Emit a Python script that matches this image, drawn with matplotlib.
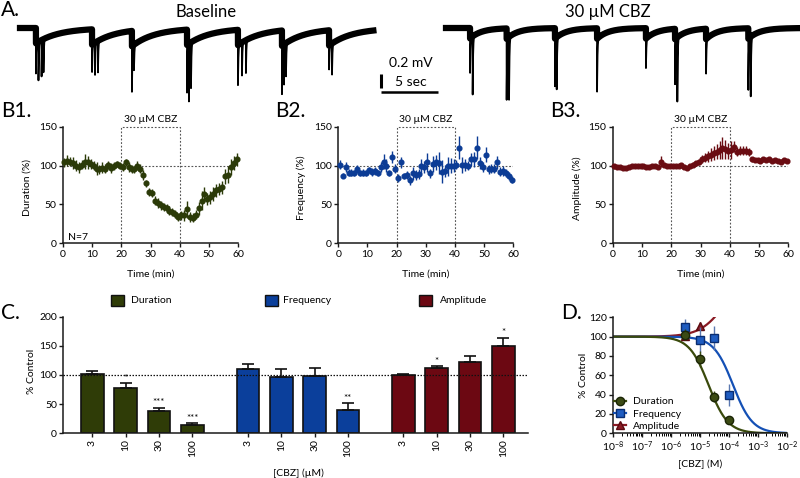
import numpy as np
import matplotlib
matplotlib.use("Agg")
import matplotlib.pyplot as plt
from matplotlib.patches import Rectangle
from matplotlib.lines import Line2D
from matplotlib.ticker import LogLocator, NullFormatter, FixedLocator

plt.rcParams['font.family'] = ['Lato', 'DejaVu Sans']
plt.rcParams['mathtext.fontset'] = 'custom'
plt.rcParams['mathtext.rm'] = 'Lato'
plt.rcParams['mathtext.it'] = 'Lato:italic'
plt.rcParams['mathtext.bf'] = 'Lato:bold'

# ------------------------------------------------------------------ data
# Panel A: field potential traces (event times in s, spike depths in mV)
base_spike_t = [1.40, 1.62, 1.89, 2.06, 6.32, 6.58, 6.84, 9.82, 10.00,
                14.65, 14.82, 15.00, 19.12, 19.47, 19.82, 22.98, 23.16, 23.33,
                27.11, 27.37]
base_spike_mv = [0.43, 0.55, 0.55, 0.47, 0.39, 0.46, 0.45, 0.65, 0.36,
                 0.72, 0.82, 0.65, 0.57, 0.50, 0.47, 0.69, 0.57, 0.50,
                 0.36, 0.47]
base_event_t = [1.40, 6.32, 9.82, 14.65, 19.12, 22.98, 27.11]
base_ahp_mv = 0.22
base_ahp_tau_s = 2.0
base_len_s = 31.0

cbz_spike_t = [2.11, 2.34, 5.32, 5.53, 9.56, 9.71, 13.25, 17.54, 20.09,
               20.29, 22.81, 26.52, 26.73]
cbz_spike_mv = [0.52, 0.83, 0.87, 0.95, 0.68, 0.78, 0.80, 0.42, 0.68,
                0.97, 0.52, 0.73, 0.90]
cbz_event_t = [2.11, 5.32, 9.56, 13.25, 17.54, 20.09, 22.81, 26.52]
cbz_ahp_mv = 0.15
cbz_ahp_tau_s = 1.0
cbz_len_s = 30.9

# Panels B1-B3: time course (one point per minute)
time_min = np.arange(60) + 0.5
duration_pct = [104, 106, 105, 103, 100, 98, 101, 105, 104, 102,
                100, 96, 95, 97, 96, 101, 97, 99, 102, 100,
                98, 104, 98, 96, 95, 100, 96, 88, 77, 66,
                65, 55, 52, 49, 47, 45, 42, 40, 38, 34,
                36, 36, 44, 34, 33, 37, 45, 55, 63, 57,
                59, 63, 68, 70, 72, 86, 88, 98, 103, 108]
duration_sem = [6, 7, 6, 8, 7, 7, 6, 10, 8, 7, 6, 8, 6, 7, 6, 5, 6, 5, 4, 4,
                5, 5, 6, 5, 5, 6, 6, 6, 5, 5, 5, 6, 6, 6, 5, 5, 6, 5, 5, 5,
                6, 7, 11, 6, 6, 6, 8, 12, 10, 8, 8, 9, 8, 8, 8, 10, 11, 10, 9, 8]
frequency_pct = [101, 87, 98, 91, 91, 90, 96, 90, 91, 90,
                 94, 92, 93, 90, 98, 105, 100, 90, 111, 96,
                 84, 104, 87, 88, 81, 90, 88, 89, 99, 98,
                 104, 90, 102, 104, 103, 92, 93, 99, 100, 100,
                 101, 123, 101, 101, 100, 108, 108, 123, 103, 98,
                 114, 95, 96, 96, 104, 92, 93, 90, 87, 82]
frequency_sem = [6, 3, 6, 4, 4, 4, 5, 4, 4, 4,
                 4, 5, 5, 4, 6, 10, 8, 4, 8, 6,
                 5, 7, 4, 5, 6, 8, 6, 6, 10, 8,
                 12, 6, 10, 10, 14, 15, 8, 12, 10, 8,
                 6, 15, 10, 8, 6, 8, 10, 15, 8, 6,
                 10, 6, 6, 6, 8, 6, 6, 5, 5, 4]
amplitude_pct = [99, 98, 98, 97, 97, 98, 99, 99, 99, 100,
                 99, 98, 98, 99, 100, 98, 105, 101, 100, 100,
                 99, 99, 100, 101, 98, 97, 99, 101, 103, 105,
                 108, 110, 112, 114, 116, 118, 120, 123, 121, 119,
                 120, 124, 118, 119, 119, 119, 117, 108, 107, 107,
                 106, 108, 107, 108, 106, 107, 106, 105, 107, 106]
amplitude_sem = [3, 2, 2, 2, 2, 2, 2, 2, 2, 2,
                 2, 2, 2, 2, 2, 3, 7, 2, 2, 2,
                 2, 2, 2, 2, 2, 2, 2, 3, 3, 4,
                 5, 6, 7, 8, 9, 10, 12, 14, 12, 10,
                 12, 7, 6, 6, 6, 6, 5, 3, 3, 3,
                 3, 3, 3, 3, 3, 3, 3, 3, 3, 3]

# Panel C / D: concentration response
conc_labels = ['3', '10', '30', '100']
conc_M = [3e-6, 1e-5, 3e-5, 1e-4]
dur_pct = [102, 77, 38, 14]
dur_sem = [5.5, 8.5, 5.7, 3.0]
freq_pct = [110, 96.5, 99, 40]
freq_sem = [8.6, 13.7, 12.5, 11.4]
amp_pct = [100.5, 111.4, 121.7, 150.2]
amp_sem = [0.5, 3.4, 10.9, 13.2]
dur_sig = ['', '*', '***', '***']
freq_sig = ['', '', '', '**']
amp_sig = ['', '*', '', '*']

# Hill fits (panel D)
dur_ic50, dur_hill = 2.0e-5, 1.3
freq_ic50, freq_hill = 1.4e-4, 1.3
amp_ec50, amp_top, amp_hill = 8e-5, 170.0, 1.0

# ------------------------------------------------------------------ style
GREEN = '#2f3c07'
BLUE = '#0b3f9b'
RED = '#6c0812'
DOT = (0, (1.6, 1.6))

W, H = 800, 478
fig = plt.figure(figsize=(W / 100, H / 100), dpi=100)


def rect(l, t, r, b):
    return [l / W, 1 - b / H, (r - l) / W, (b - t) / H]


def ftext(x, y, s, **kw):
    kw.setdefault('ha', 'center')
    kw.setdefault('va', 'center')
    fig.text(x / W, 1 - y / H, s, **kw)


def style_axes(ax):
    for s in ('top', 'right'):
        ax.spines[s].set_visible(False)
    for s in ('left', 'bottom'):
        ax.spines[s].set_linewidth(1.1)
        ax.spines[s].set_color('#1a1a1a')
    ax.tick_params(direction='out', length=3, width=1.0, labelsize=7.5,
                   pad=1.5, color='#1a1a1a')


# ------------------------------------------------------------------ A
PX_PER_S, PX_PER_MV = 11.4, 70.0
axA = fig.add_axes(rect(0, 0, 800, 110))
axA.axis('off')
axA.set_xlim(0, W / PX_PER_S)
axA.set_ylim(0.4 - 110 / PX_PER_MV, 0.4)


def trace(length, spike_t, spike_mv, event_t, ahp, tau):
    t = np.arange(0, length, 0.004)
    slow = np.zeros_like(t)
    for t0 in event_t:
        m = t >= t0
        slow[m] -= ahp * np.exp(-(t[m] - t0) / tau)
    fast = np.zeros_like(t)
    for t0, d in zip(spike_t, spike_mv):
        m = t >= t0
        fast[m] -= d * np.exp(-(t[m] - t0) / 0.035)
    return t, slow, slow + fast


for start_px, args in ((20, (base_len_s, base_spike_t, base_spike_mv, base_event_t,
                             base_ahp_mv, base_ahp_tau_s)),
                       (446, (cbz_len_s, cbz_spike_t, cbz_spike_mv, cbz_event_t,
                              cbz_ahp_mv, cbz_ahp_tau_s))):
    t, slow, full = trace(*args)
    t0 = start_px / PX_PER_S
    axA.plot(t0 + t, slow, color='k', lw=4.5, solid_joinstyle='round')
    axA.plot(t0 + t, full, color='k', lw=1.3)

# scale bars (0.2 mV, 5 sec)
sb_x = 381 / PX_PER_S
axA.plot([sb_x, sb_x], [0.4 - 74 / PX_PER_MV, 0.4 - 74 / PX_PER_MV - 0.2],
         color='k', lw=2.2, solid_capstyle='butt')
axA.plot([sb_x, sb_x + 5], [0.4 - 92 / PX_PER_MV] * 2, color='k', lw=1.8,
         solid_capstyle='butt')
ftext(411, 63, '0.2 mV', fontsize=10)
ftext(411, 82, '5 sec', fontsize=10)
ftext(206, 12, 'Baseline', fontsize=12)
ftext(608, 12, '30 µM CBZ', fontsize=12)

# panel labels
for lbl, x, y in (('A.', 1, 10), ('B1.', 1, 111), ('B2.', 275, 111),
                  ('B3.', 550, 111), ('C.', 1, 313), ('D.', 561, 313)):
    ftext(x, y, lbl, fontsize=15, ha='left')

# ------------------------------------------------------------------ B
def panel_b(px, vals, sems, color, ylabel, ylab_x):
    ax = fig.add_axes(rect(*px))
    style_axes(ax)
    ax.plot([20, 20, 40, 40], [0, 150, 150, 0], ls=DOT, color='#555555',
            lw=0.8, clip_on=False, zorder=1)
    ax.plot([0, 60], [100, 100], ls=DOT, color='#555555', lw=0.8, zorder=1)
    ax.errorbar(time_min, vals, yerr=sems, fmt='o', ms=3.4, color=color,
                ecolor=color, elinewidth=1.0, capsize=0, zorder=3,
                clip_on=False)
    ax.set_xlim(0, 60)
    ax.set_ylim(0, 150)
    ax.set_xticks([0, 10, 20, 30, 40, 50, 60])
    ax.set_yticks([0, 50, 100, 150])
    ax.annotate('30 µM CBZ', (30, 150), xytext=(0, 2), textcoords='offset points',
                ha='center', va='bottom', fontsize=7.5)
    cx = (px[0] + px[2]) / 2
    ftext(cx, 274, 'Time (min)', fontsize=7.5)
    ftext(ylab_x, 188, ylabel, fontsize=7.5, rotation=90)
    return ax


axB1 = panel_b((63, 126.7, 238, 243.3), duration_pct, duration_sem, '#2b3a08',
               'Duration (%)', 27.5)
axB1.text(1.8, 7, 'N=7', fontsize=7.5, ha='left', va='center')
panel_b((338.3, 126.7, 513.3, 243.3), frequency_pct, frequency_sem, '#0c3c95',
        'Frequency (%)', 301.5)
panel_b((612.7, 126.7, 788.3, 243.3), amplitude_pct, amplitude_sem, '#6a0c12',
        'Amplitude (%)', 577.5)

# ------------------------------------------------------------------ C
axC = fig.add_axes(rect(63.3, 316.7, 528, 433.3))
style_axes(axC)
group_start = [0.0, 4.67, 9.33]
xt, xl = [], []
for g0, vals, sems, sig, col in zip(group_start,
                                    (dur_pct, freq_pct, amp_pct),
                                    (dur_sem, freq_sem, amp_sem),
                                    (dur_sig, freq_sig, amp_sig),
                                    (GREEN, BLUE, RED)):
    xs = [g0 + i for i in range(len(vals))]
    axC.bar(xs, vals, width=0.675, color=col, edgecolor='#111111', lw=1.2,
            zorder=2)
    axC.errorbar(xs, vals, yerr=[[0] * len(vals), sems], fmt='none',
                 ecolor='#111111', elinewidth=1.2, capsize=4, capthick=1.2,
                 zorder=3)
    for x, v, s, st in zip(xs, vals, sems, sig):
        if st:
            axC.annotate(st, (x, v + s), xytext=(0, 0.5),
                         textcoords='offset points', ha='center', va='bottom',
                         fontsize=7)
    xt += xs
    xl += conc_labels
axC.axhline(100, ls=(0, (1.2, 1.2)), color='#111111', lw=0.9, zorder=4)
axC.set_xlim(-0.87, 13.07)
axC.set_ylim(0, 200)
axC.set_yticks([0, 50, 100, 150, 200])
axC.set_xticks(xt)
axC.set_xticklabels(xl, rotation=90)
ftext(298, 473, '[CBZ] (µM)', fontsize=7.5)
ftext(32, 371, '% Control', fontsize=7.5, rotation=90)

# legend for C (manual, above plot)
for (sx, tx, col, name) in ((111, 131, GREEN, 'Duration'),
                            (265, 283, BLUE, 'Frequency'),
                            (419, 440, RED, 'Amplitude')):
    fig.add_artist(Rectangle((sx / W, 1 - 306 / H), 13 / W, 11 / H,
                             transform=fig.transFigure, facecolor=col,
                             edgecolor='#111111', lw=1.0))
    ftext(tx, 300.5, name, fontsize=7.5, ha='left')

# ------------------------------------------------------------------ D
axD = fig.add_axes(rect(613, 317.3, 786.7, 433.3))
style_axes(axD)
axD.set_xscale('log')
axD.set_xlim(1e-8, 1e-2)
axD.set_ylim(0, 120)
axD.set_yticks([0, 20, 40, 60, 80, 100, 120])
axD.xaxis.set_major_locator(FixedLocator([1e-8, 1e-7, 1e-6, 1e-5, 1e-4, 1e-3, 1e-2]))
axD.set_xticklabels([r'$10^{%d}$' % e for e in range(-8, -1)])
axD.xaxis.set_minor_locator(LogLocator(base=10, subs=np.arange(2, 10) * 1.0,
                                       numticks=20))
axD.xaxis.set_minor_formatter(NullFormatter())
axD.tick_params(axis='x', which='minor', length=1.8, width=0.7)

xx = np.logspace(-8, -2, 400)
axD.plot(xx, 100 + (amp_top - 100) / (1 + (amp_ec50 / xx) ** amp_hill),
         color='#8a1a24', lw=1.6, zorder=2)
axD.plot(xx, 100 / (1 + (xx / freq_ic50) ** freq_hill), color='#1450b5',
         lw=1.6, zorder=2)
axD.plot(xx, 100 / (1 + (xx / dur_ic50) ** dur_hill), color='#3a4a0c',
         lw=1.6, zorder=2)
# points outside the y range are not drawn (as in the original graph)
amp_in = [(c, v, s) for c, v, s in zip(conc_M, amp_pct, amp_sem) if v <= 120]
axD.errorbar([a[0] for a in amp_in], [a[1] for a in amp_in],
             yerr=[a[2] for a in amp_in], fmt='^', ms=6, mfc='#8a1c24',
             mec='#5a0a10', ecolor='#8a1c24', elinewidth=1.0, capsize=0,
             zorder=3)
axD.errorbar(conc_M, freq_pct, yerr=freq_sem, fmt='s', ms=5.8, mfc='#1f5cc0',
             mec='#0a2d70', ecolor='#5a78b0', elinewidth=1.0, capsize=0,
             zorder=4)
axD.errorbar(conc_M, dur_pct, yerr=dur_sem, fmt='o', ms=6, mfc='#3b4a13',
             mec='#1b2506', ecolor='#3b4a13', elinewidth=1.0, capsize=0,
             zorder=5)

handles = [Line2D([], [], color='#3a4a0c', lw=1.6, marker='o', ms=6,
                  mfc='#3b4a13', mec='#1b2506'),
           Line2D([], [], color='#1450b5', lw=1.6, marker='s', ms=5.8,
                  mfc='#1f5cc0', mec='#0a2d70'),
           Line2D([], [], color='#8a1a24', lw=1.6, marker='^', ms=6,
                  mfc='#8a1c24', mec='#5a0a10')]
axD.legend(handles, ['Duration', 'Frequency', 'Amplitude'], loc='lower left',
           bbox_to_anchor=(0.005, 0.02), frameon=False, fontsize=7.5,
           handlelength=1.2, handletextpad=0.6, labelspacing=0.3,
           borderpad=0, borderaxespad=0)
ftext(700, 464, '[CBZ] (M)', fontsize=7.5)
ftext(584, 375, '% Control', fontsize=7.5, rotation=90)

fig.savefig('out.png', dpi=100)
